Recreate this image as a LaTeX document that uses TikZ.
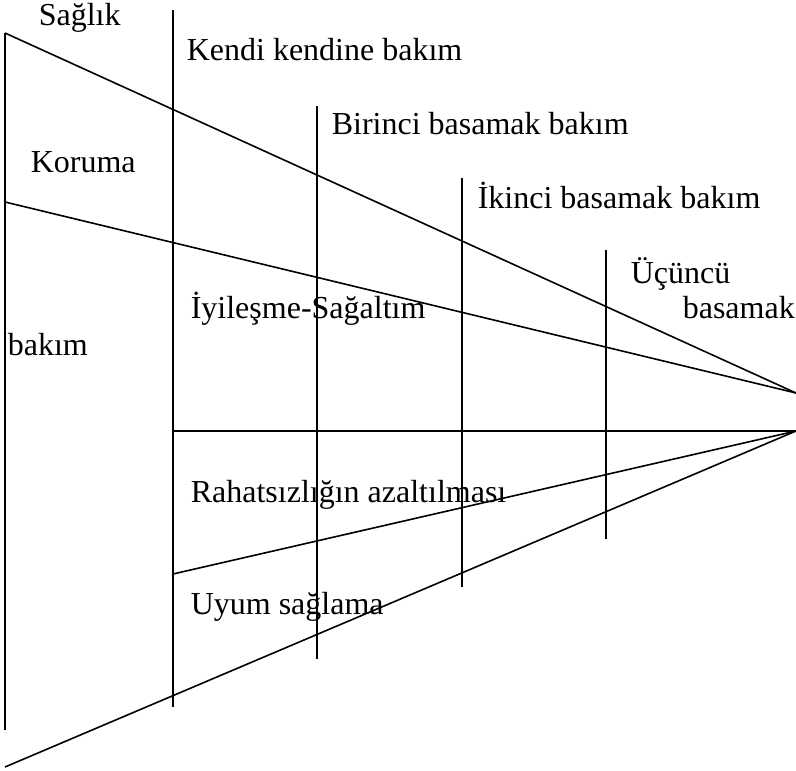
\documentclass[tikz,border=0pt]{standalone}
\usepackage{fontspec}
\setmainfont{Liberation Serif}
\begin{document}
\begin{tikzpicture}[x=1pt, y=-1pt, line width=1.6pt, every node/.style={font=\fontsize{32}{38}\selectfont, anchor=base west, inner sep=0pt}]
  \useasboundingbox (0,0) rectangle (796,771);
  \coordinate (tip) at (796,393);
  \coordinate (low) at (796,431);
  % left edge and the wedge
  \draw (5,33) -- (5,730);
  \draw (5,33) -- (tip);
  \draw (5,202) -- (tip);
  \draw (5,767) -- (low);
  % levels of care
  \foreach \x/\ya/\yb in {173/10/707, 317/106/659, 462/178/587, 606/250/539} \draw (\x,\ya) -- (\x,\yb);
  \draw (173,431) -- (low);
  \draw (173,574) -- (low);
  \node (saglik) at (38,25) {Sağlık};
  \node (koruma) at (30,172) {Koruma};
  \node (bakim) at (7,355) {bakım};
  \node (kendi) at (186,60) {Kendi kendine bakım};
  \node (birinci) at (331,134) {Birinci basamak bakım};
  \node (ikinci) at (477,208) {İkinci basamak bakım};
  \node (ucuncu) at (630,283) {Üçüncü};
  \node (basamak) at (682,318) {basamak};
  \node (iyiles) at (190,318) {İyileşme-Sağaltım};
  \node (rahat) at (190,502) {Rahatsızlığın azaltılması};
  \node (uyum) at (190,614) {Uyum sağlama};
\end{tikzpicture}
\end{document}
